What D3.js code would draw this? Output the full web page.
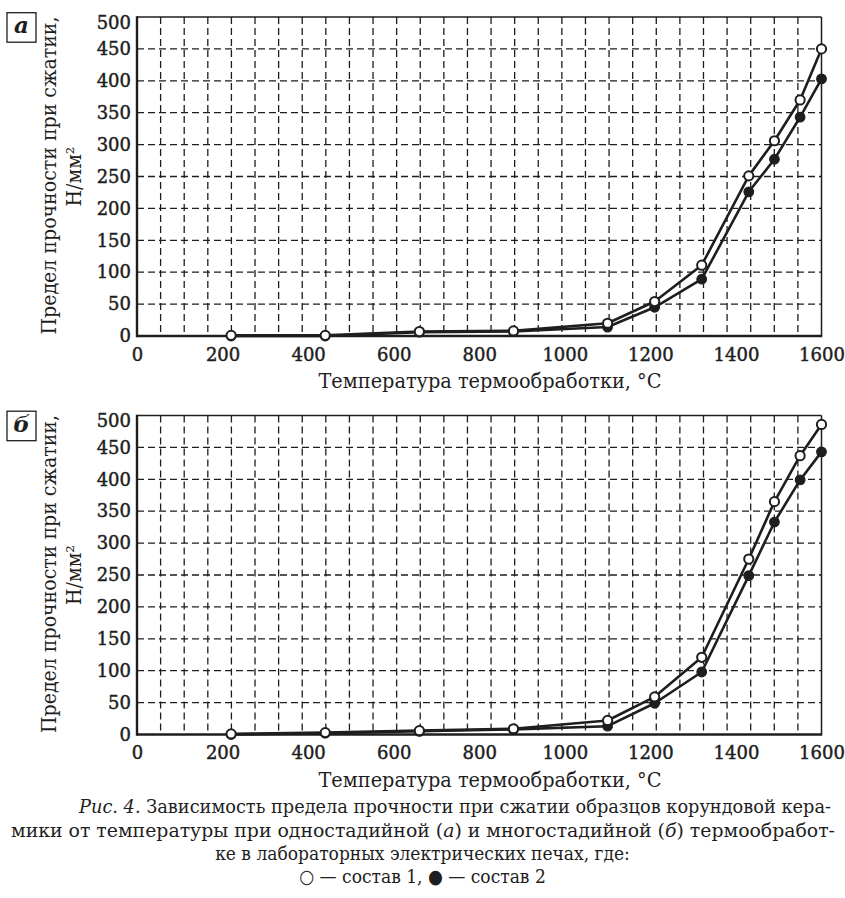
<!DOCTYPE html>
<html><head><meta charset="utf-8">
<script src="https://cdn.jsdelivr.net/npm/d3@7"></script>
<style>body{margin:0;background:#fff;} svg{display:block;}</style>
</head><body>
<svg id="c" width="845" height="898"></svg>
<script>
// ---- data ----
const temps = [220, 440, 660, 880, 1100, 1210, 1320, 1430, 1490, 1550, 1600];
const aSostav1 = [1, 1, 7, 8, 20, 54, 111, 251, 306, 370, 450];
const aSostav2 = [0, 0, 6, 7, 14, 45, 89, 226, 277, 343, 403];
const bSostav1 = [1, 3, 6, 9, 22, 59, 121, 275, 365, 437, 486];
const bSostav2 = [0, 2, 5, 8, 13, 49, 98, 249, 333, 399, 443];
const xTickValues = [0, 200, 400, 600, 800, 1000, 1200, 1400, 1600];
const yTickValues = [0, 50, 100, 150, 200, 250, 300, 350, 400, 450, 500];
const panelLetters = ["а", "б"];
const xTitle = "Температура термообработки,  °C";
const yTitle1 = "Предел прочности при сжатии,";
const yTitle2 = "Н/мм²";

const NUM = "DejaVu Serif";
const LBL = "DejaVu Serif Condensed";
const svg = d3.select("#c");
const ink = "#1e1e1e";
const X0 = 137, X1 = 821.5;
const x = d3.scaleLinear().domain([0, 1600]).range([X0, X1]);
const gridX = d3.range(1, 29).map(i => i * 1600 / 29);

const panels = [
  {letter: panelLetters[0], top: 17, bottom: 336, s1: aSostav1, s2: aSostav2, titleY: 388},
  {letter: panelLetters[1], top: 415.5, bottom: 734.5, s1: bSostav1, s2: bSostav2, titleY: 786.5}
];

panels.forEach(p => {
  const y = d3.scaleLinear().domain([0, 500]).range([p.bottom, p.top]);
  const g = svg.append("g");

  // grid
  g.append("g").selectAll("line").data(yTickValues.filter(v => v > 0 && v < 500)).join("line")
    .attr("x1", X0).attr("x2", X1).attr("y1", d => y(d)).attr("y2", d => y(d))
    .attr("stroke", ink).attr("stroke-width", 1.3).attr("stroke-dasharray", "7,4");
  g.append("g").selectAll("line").data(gridX).join("line")
    .attr("x1", d => x(d)).attr("x2", d => x(d)).attr("y1", p.top).attr("y2", p.bottom)
    .attr("stroke", ink).attr("stroke-width", 1.3).attr("stroke-dasharray", "7,4");

  // frame
  g.append("line").attr("x1", X0).attr("x2", X1).attr("y1", p.top).attr("y2", p.top)
    .attr("stroke", ink).attr("stroke-width", 1.5);
  g.append("line").attr("x1", X1).attr("x2", X1).attr("y1", p.top).attr("y2", p.bottom)
    .attr("stroke", ink).attr("stroke-width", 1.5);
  g.append("line").attr("x1", X0).attr("x2", X0).attr("y1", p.top - 0.75).attr("y2", p.bottom + 1.2)
    .attr("stroke", ink).attr("stroke-width", 2.4);
  g.append("line").attr("x1", X0).attr("x2", X1 + 0.75).attr("y1", p.bottom).attr("y2", p.bottom)
    .attr("stroke", ink).attr("stroke-width", 2.4);

  // axes (labels only)
  const ax = g.append("g").attr("transform", `translate(0,${p.bottom})`)
    .call(d3.axisBottom(x).tickValues(xTickValues).tickSize(0).tickPadding(12).tickFormat(d3.format("d")));
  const ay = g.append("g").attr("transform", `translate(${X0},0)`)
    .call(d3.axisLeft(y).tickValues(yTickValues).tickSize(0).tickPadding(6).tickFormat(d3.format("d")));
  [ax, ay].forEach(a => {
    a.attr("font-family", null).attr("font-size", null);
    a.select(".domain").remove();
    a.selectAll("text").style("font-family", NUM).style("font-size", "18px").attr("fill", ink)
      .attr("stroke", ink).attr("stroke-width", 0.45);
  });
  ay.selectAll(".tick text").filter(d => d === 500).attr("dy", "0.62em");

  // series lines
  const line = d3.line().x((d, i) => x(temps[i])).y(d => y(d));
  [p.s2, p.s1].forEach(s => {
    g.append("path").datum(s).attr("d", line).attr("fill", "none")
      .attr("stroke", ink).attr("stroke-width", 2.6).attr("stroke-linejoin", "round");
  });
  // markers: filled (состав 2) first, open (состав 1) on top
  g.append("g").selectAll("circle").data(p.s2).join("circle")
    .attr("cx", (d, i) => x(temps[i])).attr("cy", d => y(d)).attr("r", 4.8)
    .attr("fill", ink).attr("stroke", ink).attr("stroke-width", 1.2);
  g.append("g").selectAll("circle").data(p.s1).join("circle")
    .attr("cx", (d, i) => x(temps[i])).attr("cy", d => y(d)).attr("r", 4.6)
    .attr("fill", "#fff").attr("stroke", ink).attr("stroke-width", 2);

  // x title
  g.append("text").attr("x", 490).attr("y", p.titleY).attr("text-anchor", "middle")
    .style("font-family", LBL).style("font-size", "20px").attr("fill", ink)
    .attr("textLength", 343).attr("lengthAdjust", "spacingAndGlyphs").text(xTitle);

  // y title
  const cy = (p.top + p.bottom) / 2;
  g.append("text").attr("transform", `translate(56,${cy - 1}) rotate(-90)`).attr("text-anchor", "middle")
    .style("font-family", LBL).style("font-size", "21px").attr("fill", ink)
    .attr("textLength", 318).attr("lengthAdjust", "spacingAndGlyphs").text(yTitle1);
  g.append("text").attr("transform", `translate(81,${cy}) rotate(-90)`).attr("text-anchor", "middle")
    .style("font-family", LBL).style("font-size", "21px").attr("fill", ink)
    .text(yTitle2);

  // panel letter box
  g.append("rect").attr("x", 7).attr("y", p.top - 4.3).attr("width", 29).attr("height", 29.5)
    .attr("fill", "#fff").attr("stroke", ink).attr("stroke-width", 1.3);
  g.append("text").attr("x", 21.5).attr("y", p.top + 16).attr("text-anchor", "middle")
    .style("font-family", "DejaVu Serif").style("font-size", "23px").style("font-weight", "bold")
    .style("font-style", "italic").attr("fill", ink).text(p.letter);
});

// caption
const capStyle = t => t.style("font-family", LBL).style("font-size", "19px").attr("fill", ink);
const l1 = capStyle(svg.append("text")).attr("x", 79).attr("y", 813).attr("textLength", 752).attr("lengthAdjust", "spacingAndGlyphs");
l1.append("tspan").style("font-style", "italic").text("Рис. 4.");
l1.append("tspan").text(" Зависимость предела прочности при сжатии образцов корундовой кера-");
const l2 = capStyle(svg.append("text")).attr("x", 11).attr("y", 837).attr("textLength", 824).attr("lengthAdjust", "spacingAndGlyphs");
l2.append("tspan").text("мики от температуры при одностадийной (");
l2.append("tspan").style("font-style", "italic").text("а");
l2.append("tspan").text(") и многостадийной (");
l2.append("tspan").style("font-style", "italic").text("б");
l2.append("tspan").text(") термообработ-");
capStyle(svg.append("text")).attr("x", 422.5).attr("y", 860).attr("text-anchor", "middle")
  .text("ке в лабораторных электрических печах, где:");
capStyle(svg.append("text")).attr("x", 422.5).attr("y", 883).attr("text-anchor", "middle")
  .text("○ — состав 1, ● — состав 2");
</script>
</body></html>
